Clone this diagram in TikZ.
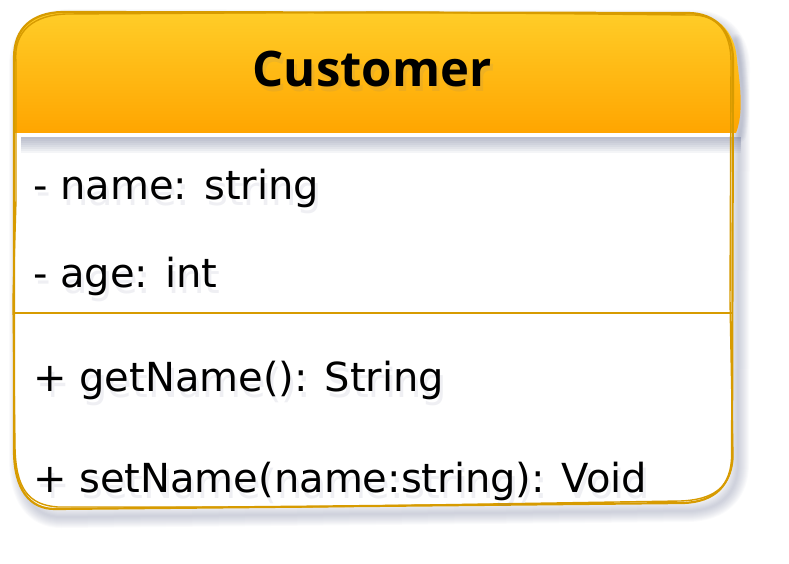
\documentclass[tikz,border=0pt]{standalone}
\usepackage{fontspec}
\setmainfont{DejaVu Sans}
\newfontfamily\titlefont{Open Sans}
\begin{document}
\begin{tikzpicture}[x=1pt,y=-1pt]
\definecolor{strk}{RGB}{215,155,0}
\definecolor{htop}{RGB}{255,205,40}
\definecolor{hbot}{RGB}{255,165,0}
\definecolor{shd}{RGB}{110,118,150}
\tikzset{
  attrtext/.style={anchor=base west, inner sep=0pt, font=\fontsize{40}{44}\selectfont},
  titletext/.style={anchor=base, inner sep=0pt, font=\titlefont\fontsize{49}{56}\selectfont\bfseries},
  txtshadow/.style={text=shd, opacity=0.11},
  sketch/.style={draw=strk, line width=2.2pt, line join=round, line cap=round}
}
\def\boxpath{(14,58) .. controls (14,28) and (32,13) .. (62,12) -- (688,13) .. controls (716,13) and (733,32) .. (733,60) -- (732,455) .. controls (732,485) and (715,502) .. (683,503) -- (55,509) .. controls (30,509) and (14,490) .. (14,450) -- cycle}
\def\headpath{(14,133) -- (14,58) .. controls (14,28) and (32,13) .. (62,12) -- (688,13) .. controls (716,13) and (735,30) .. (737,60) .. controls (740,85) and (744,112) .. (736,133) -- cycle}
\useasboundingbox (0,0) rectangle (789,564);
% drop shadow of the box
\begin{scope}[shift={(6,8)}]
\foreach \w in {2,4,...,22}
  \draw[shd, line width=\w pt, opacity=0.035, line join=round] \boxpath;
\end{scope}
\fill[white] \boxpath;
% shadow of the header
\begin{scope}[shift={(3,4)}]
\foreach \w in {2,4,...,16}
  \fill[shd, opacity=0.07] (18,133) rectangle (738,133+\w);
\end{scope}
\foreach \w in {2,4,...,12}
  \draw[shd, line width=\w pt, opacity=0.045, line cap=round] (736,40) .. controls (743,75) and (746,110) .. (740,136);
% header
\shade[top color=htop, bottom color=hbot] \headpath;
% outline, sketched twice
\draw[sketch] \boxpath;
\draw[sketch, line width=1.4pt] (16,62) .. controls (13,30) and (35,15) .. (66,14) -- (400,12) -- (690,15) .. controls (718,14) and (731,33) .. (731,62) -- (730,300) -- (733,458) .. controls (731,488) and (712,500) .. (680,501) -- (300,507) -- (58,507) .. controls (28,505) and (16,488) .. (15,448) -- (13,300) -- (16,200) -- cycle;
% separator
\draw[strk, line width=2pt] (14,313) -- (733,313);
% title
\node[titletext, txtshadow] at (375,92) {Customer};
\node[titletext] (title) at (372,87) {Customer};
% attributes
\node[attrtext, txtshadow] at (36,205) {- name: string};
\node[attrtext] (attr1) at (33,199) {- name: string};
\node[attrtext, txtshadow] at (36,293) {- age: int};
\node[attrtext] (attr2) at (33,287) {- age: int};
% methods
\node[attrtext, txtshadow] at (36,397) {+ getName(): String};
\node[attrtext] (meth1) at (33,391) {+ getName(): String};
\node[attrtext, txtshadow] at (36,498) {+ setName(name:string): Void};
\node[attrtext] (meth2) at (33,492) {+ setName(name:string): Void};
\end{tikzpicture}
\end{document}
